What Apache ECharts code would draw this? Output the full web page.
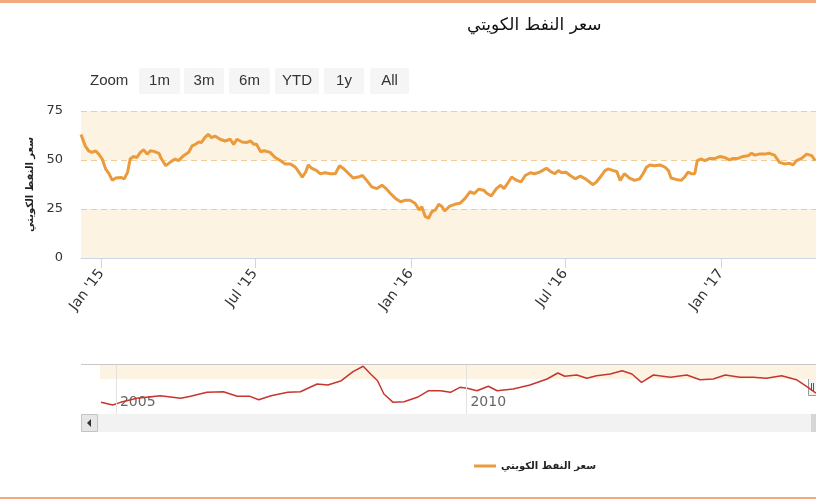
<!DOCTYPE html>
<html>
<head>
<meta charset="utf-8">
<script src="https://cdn.jsdelivr.net/npm/echarts@6/dist/echarts.min.js"></script>
<style>
html, body { margin: 0; padding: 0; background: #fff; }
#chart { width: 816px; height: 500px; }
</style>
</head>
<body>
<div id="chart"></div>
<script>
var seriesName = 'سعر النفط الكويتي';

// main chart (Dec 2014 - Apr 2017)
var mainDates = [
    '2014-12-08', '2014-12-10', '2014-12-13', '2014-12-17', '2014-12-21', '2014-12-25', '2014-12-29',
    '2015-01-02', '2015-01-06', '2015-01-10', '2015-01-14', '2015-01-18', '2015-01-24', '2015-01-28',
    '2015-02-01', '2015-02-04', '2015-02-08', '2015-02-12', '2015-02-16', '2015-02-20', '2015-02-24', '2015-02-28',
    '2015-03-04', '2015-03-10', '2015-03-13', '2015-03-18', '2015-03-23', '2015-03-29',
    '2015-04-02', '2015-04-08', '2015-04-14', '2015-04-18', '2015-04-22', '2015-04-26', '2015-04-29',
    '2015-05-03', '2015-05-07', '2015-05-11', '2015-05-15', '2015-05-21', '2015-05-27',
    '2015-06-02', '2015-06-06', '2015-06-10', '2015-06-16', '2015-06-21', '2015-06-26', '2015-06-30',
    '2015-07-03', '2015-07-08', '2015-07-12', '2015-07-19', '2015-07-25', '2015-07-31',
    '2015-08-06', '2015-08-12', '2015-08-18', '2015-08-22', '2015-08-26', '2015-08-30',
    '2015-09-02', '2015-09-06', '2015-09-12', '2015-09-16', '2015-09-22', '2015-09-28',
    '2015-10-04', '2015-10-09', '2015-10-14', '2015-10-20', '2015-10-25', '2015-10-31',
    '2015-11-05', '2015-11-10', '2015-11-16', '2015-11-22', '2015-11-28',
    '2015-12-03', '2015-12-08', '2015-12-14', '2015-12-20', '2015-12-26', '2015-12-31',
    '2016-01-06', '2016-01-11', '2016-01-14', '2016-01-18', '2016-01-22', '2016-01-26', '2016-01-30',
    '2016-02-03', '2016-02-07', '2016-02-10', '2016-02-16', '2016-02-22', '2016-02-28',
    '2016-03-05', '2016-03-11', '2016-03-16', '2016-03-21', '2016-03-27', '2016-03-31',
    '2016-04-05', '2016-04-11', '2016-04-16', '2016-04-20', '2016-04-24', '2016-04-29',
    '2016-05-05', '2016-05-10', '2016-05-15', '2016-05-21', '2016-05-26',
    '2016-06-01', '2016-06-09', '2016-06-14', '2016-06-19', '2016-06-23', '2016-06-27',
    '2016-07-02', '2016-07-07', '2016-07-13', '2016-07-19', '2016-07-25', '2016-07-31',
    '2016-08-03', '2016-08-07', '2016-08-13', '2016-08-17', '2016-08-21', '2016-08-27', '2016-08-31',
    '2016-09-04', '2016-09-09', '2016-09-15', '2016-09-21', '2016-09-27',
    '2016-10-01', '2016-10-05', '2016-10-09', '2016-10-15', '2016-10-21', '2016-10-27', '2016-10-31',
    '2016-11-03', '2016-11-09', '2016-11-15', '2016-11-19', '2016-11-23', '2016-11-27',
    '2016-12-01', '2016-12-04', '2016-12-08', '2016-12-13', '2016-12-19', '2016-12-25', '2016-12-31',
    '2017-01-05', '2017-01-11', '2017-01-15', '2017-01-21', '2017-01-27',
    '2017-02-02', '2017-02-06', '2017-02-10', '2017-02-15', '2017-02-21', '2017-02-27',
    '2017-03-05', '2017-03-11', '2017-03-17', '2017-03-23', '2017-03-27', '2017-03-31',
    '2017-04-06', '2017-04-12', '2017-04-18', '2017-04-22'
];
var mainValues = [
    63, 62.2, 57.2, 54.7, 53.9, 54.7, 53,
    50.5, 45.5, 43, 39.6, 40.8, 41.1, 40.4,
    43.8, 50.5, 51.8, 51.3, 53.9, 55.2, 53, 54.7,
    54.4, 53.4, 50.5, 47.1, 48.8, 50.5,
    49.7, 52.2, 53.9, 57.2, 58, 59.2, 58.9,
    61.4, 63.1, 61.4, 62.2, 60.6, 59.7,
    60.6, 58, 60.6, 59.2, 58.9, 59.7, 58,
    58, 54.2, 54.7, 53.9, 51.3, 49.7,
    48, 48, 46.3, 43.8, 41.3, 43.8,
    47.5, 45.8, 44.6, 43, 43.5, 43,
    43, 47.1, 45.5, 43, 40.8, 41.3,
    42.1, 39.6, 36.3, 35.4, 37.1,
    35.4, 32.9, 30.4, 28.7, 29.5, 29.5,
    27.9, 24.5, 26.2, 21.2, 20.3, 23.7, 24.5,
    27.4, 26.2, 24, 26.5, 27.4, 27.9,
    30.4, 33.8, 32.9, 35.1, 34.6, 32.9,
    31.7, 35.4, 37.1, 35.4, 37.9, 41.3,
    39.6, 38.8, 42.1, 43.5, 43,
    43.8, 45.8, 44.1, 43, 44.6, 43.5,
    43.8, 42.1, 40.4, 41.8, 40.4, 38.4,
    37.4, 38.8, 42.1, 44.6, 45.5, 44.6, 44.1,
    39.6, 43, 40.8, 39.6, 40.4,
    43, 46.3, 47.5, 47.1, 47.5, 46.3, 44.6,
    40.8, 40.1, 39.6, 41.3, 43.8, 43,
    43, 49.7, 50.5, 49.7, 50.8, 50.8, 51.8,
    51.3, 50.1, 50.8, 50.8, 51.8,
    52.2, 53.4, 52.5, 53, 53, 53.4,
    52.5, 48.8, 48, 48.3, 47.5, 49.7,
    50.8, 53, 52.2, 49.7
];

// navigator series (2004 - 2014)
var navDates = [
    '2004-10-15', '2004-12-15', '2005-01-25', '2005-04-20', '2005-08-20', '2005-12-05',
    '2006-01-25', '2006-04-20', '2006-07-15', '2006-09-25', '2006-11-30',
    '2007-01-15', '2007-03-20', '2007-06-15', '2007-08-20', '2007-11-15',
    '2008-01-10', '2008-03-20', '2008-05-20', '2008-07-12', '2008-08-20', '2008-09-25', '2008-10-28', '2008-12-15',
    '2009-02-10', '2009-04-20', '2009-06-18', '2009-08-18', '2009-10-10', '2009-11-28',
    '2010-01-05', '2010-02-25', '2010-04-25', '2010-06-10', '2010-09-01', '2010-11-28',
    '2011-02-25', '2011-04-22', '2011-05-28', '2011-07-30', '2011-09-20', '2011-11-10',
    '2012-01-20', '2012-03-22', '2012-05-12', '2012-07-01', '2012-09-01', '2012-11-28',
    '2013-02-22', '2013-05-02', '2013-07-10', '2013-09-10', '2013-11-26',
    '2014-02-03', '2014-04-12', '2014-07-01', '2014-09-16', '2014-11-15', '2014-12-27'
];
var navValues = [
    39, 32.4, 39, 49, 55.6, 49,
    54, 64, 65.5, 54, 54,
    45.6, 55.6, 64, 65.5, 84.7,
    82.2, 92.9, 115.3, 128.8, 109.6, 92.9, 59.8, 39,
    40.6, 51.6, 68, 68, 64, 76.5,
    74, 68, 79, 68, 72.2, 82.2,
    97.1, 112.1, 103.9, 107.1, 98.9, 105.4,
    109.6, 117.8, 109.6, 88.9, 107.1, 101.4,
    107.1, 95.4, 97.1, 107.1, 101.4,
    101.4, 98.9, 105.4, 95.4, 76.5, 62
];
var navGridYears = ['2005-01-01', '2010-01-01'];

var monthNames = ['Jan', 'Feb', 'Mar', 'Apr', 'May', 'Jun', 'Jul', 'Aug', 'Sep', 'Oct', 'Nov', 'Dec'];
var zoomButtons = ['1m', '3m', '6m', 'YTD', '1y', 'All'];

var DAY = 24 * 3600 * 1000;

function pairs(dates, values) {
    return dates.map(function (d, i) { return [d, values[i]]; });
}

// range selector buttons (just drawn, not interactive)
var buttonX = [139, 184, 229, 275, 324, 370];
var buttonW = [41, 40, 41, 44, 40, 39];
var graphics = [
    { type: 'rect', shape: { x: 0, y: 0, width: 816, height: 3 }, style: { fill: '#f2a97e' } },
    { type: 'rect', shape: { x: 0, y: 497, width: 816, height: 2 }, style: { fill: '#f2a97e' } },
    { type: 'text', x: 90, y: 81, style: { text: 'Zoom', fontSize: 15, fontFamily: 'Liberation Sans Narrow, Liberation Sans', fill: '#333', verticalAlign: 'middle' } }
];
zoomButtons.forEach(function (b, i) {
    graphics.push({ type: 'rect', shape: { x: buttonX[i], y: 68, width: buttonW[i], height: 26, r: 2 }, style: { fill: '#f5f5f5' } });
    graphics.push({ type: 'text', x: buttonX[i] + buttonW[i] / 2, y: 81, style: { text: b, fontSize: 15, fontFamily: 'Liberation Sans Narrow, Liberation Sans', fill: '#333', align: 'center', verticalAlign: 'middle' } });
});
// navigator frame, handle and scrollbar
graphics.push(
    { type: 'rect', shape: { x: 81, y: 364, width: 735, height: 1 }, style: { fill: '#c8c8c8' } },
    { type: 'rect', shape: { x: 81, y: 414, width: 735, height: 18 }, style: { fill: '#f2f2f2' } },
    { type: 'rect', shape: { x: 811, y: 414, width: 5, height: 18 }, style: { fill: '#d6d6d6' } },
    { type: 'rect', shape: { x: 81.5, y: 414.5, width: 16, height: 17 }, style: { fill: '#e6e6e6', stroke: '#c4c4c4' } },
    { type: 'polygon', shape: { points: [[91, 419], [91, 427], [87, 423]] }, style: { fill: '#333' } },
    { type: 'rect', shape: { x: 808.5, y: 378.5, width: 9, height: 17 }, style: { fill: '#f2f2f2', stroke: '#999' } },
    { type: 'line', shape: { x1: 811.5, y1: 383, x2: 811.5, y2: 391 }, style: { stroke: '#555' } },
    { type: 'line', shape: { x1: 813.5, y1: 383, x2: 813.5, y2: 391 }, style: { stroke: '#555' } }
);

var chart = echarts.init(document.getElementById('chart'));
var option = {
    animation: false,
    textStyle: { fontFamily: 'DejaVu Sans' },
    title: {
        text: seriesName,
        left: 462,
        top: 12,
        textStyle: { fontSize: 17, fontWeight: 'normal', color: '#111', fontFamily: 'DejaVu Sans' }
    },
    legend: {
        data: [{ name: seriesName, icon: 'rect' }],
        left: 469,
        top: 456,
        itemWidth: 22,
        itemHeight: 3,
        itemGap: 5,
        textStyle: { fontSize: 10, fontWeight: 'bold', color: '#222' }
    },
    grid: [
        { left: 81, right: 0, top: 111, height: 147 },
        { left: 81, right: 0, top: 365, height: 49 }
    ],
    xAxis: [
        {
            type: 'time', gridIndex: 0,
            min: '2014-12-08', max: '2017-04-23',
            minInterval: 183 * DAY, maxInterval: 183 * DAY,
            axisLine: { lineStyle: { color: '#ccd6eb' } },
            axisTick: { length: 10, lineStyle: { color: '#ccd6eb' } },
            splitLine: { show: false },
            axisLabel: {
                rotate: 53, fontSize: 14, color: '#333', margin: 13,
                formatter: function (v) {
                    var d = new Date(v);
                    return monthNames[d.getMonth()] + " '" + String(d.getFullYear()).slice(2);
                }
            }
        },
        {
            type: 'time', gridIndex: 1,
            min: '2004-07-03', max: '2014-12-27',
            minInterval: 365 * DAY, maxInterval: 366 * DAY,
            axisLine: { show: false },
            axisTick: { show: false },
            splitLine: { show: false },
            axisLabel: {
                inside: true, margin: 5, align: 'left', padding: [0, 0, 0, 4],
                fontSize: 14, color: '#666',
                formatter: function (v) {
                    var y = new Date(v).getFullYear();
                    return y % 5 === 0 ? String(y) : '';
                }
            }
        }
    ],
    yAxis: [
        {
            type: 'value', gridIndex: 0, min: 0, max: 75, interval: 25,
            name: seriesName, nameLocation: 'middle', nameGap: 41, nameRotate: 90,
            nameTextStyle: { fontSize: 10, fontWeight: 'bold', color: '#222' },
            axisLine: { show: false }, axisTick: { show: false },
            axisLabel: { fontSize: 13, color: '#333', margin: 18 },
            splitArea: { show: true, areaStyle: { color: ['#fdf3e2', 'rgba(255,255,255,0)'] } },
            splitLine: { lineStyle: { color: '#f0cc98', type: [6, 4] } }
        },
        { type: 'value', gridIndex: 1, min: 10, max: 132, show: false }
    ],
    series: [
        {
            name: seriesName, type: 'line', xAxisIndex: 0, yAxisIndex: 0,
            data: pairs(mainDates, mainValues),
            symbol: 'none', z: 5,
            lineStyle: { color: '#eb9a3c', width: 3 },
            itemStyle: { color: '#eb9a3c' }
        },
        {
            name: 'navigator', type: 'line', xAxisIndex: 1, yAxisIndex: 1,
            data: pairs(navDates, navValues),
            symbol: 'none',
            lineStyle: { color: '#c8352e', width: 1.5 },
            markArea: {
                silent: true,
                itemStyle: { color: '#fdf3e2' },
                data: [[{ xAxis: '2004-10-10', yAxis: 97 }, { xAxis: '2014-12-27', yAxis: 132 }]]
            },
            markLine: {
                silent: true,
                symbol: 'none',
                label: { show: false },
                lineStyle: { color: '#e2e2e2', type: 'solid', width: 1 },
                data: navGridYears.map(function (d) { return { xAxis: d }; })
            }
        }
    ],
    graphic: graphics
};
chart.setOption(option);
</script>
</body>
</html>
